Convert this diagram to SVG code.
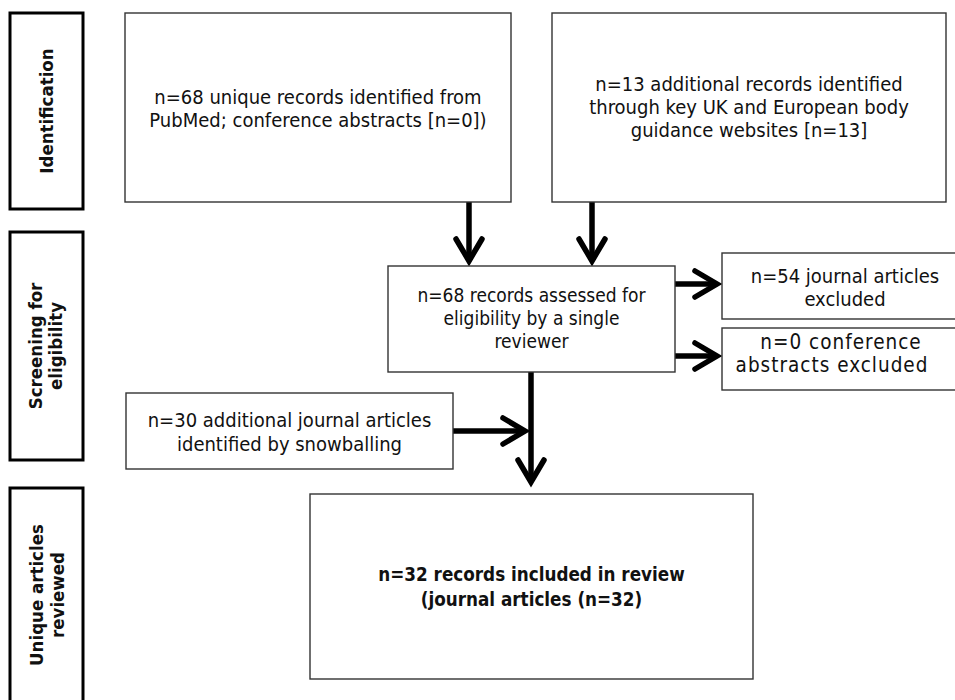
<svg xmlns="http://www.w3.org/2000/svg" width="955" height="700" viewBox="0 0 955 700">
<style>
  .stage { fill: #fff; stroke: #000; stroke-width: 3; }
  .box { fill: #fff; stroke: #333; stroke-width: 1.4; }
  .t { font-family: "DejaVu Sans Condensed", "DejaVu Sans", Verdana, sans-serif; font-stretch: condensed; font-size: 20px; fill: #111; text-anchor: middle; }
  .t17 { font-size: 19px; }
  .wide { font-size: 20.5px; letter-spacing: 1px; }
  .lab { font-family: "DejaVu Sans Condensed", "DejaVu Sans", Verdana, sans-serif; font-stretch: condensed; font-size: 18.5px; font-weight: bold; fill: #111; text-anchor: middle; }
  .bt { font-family: "DejaVu Sans Condensed", "DejaVu Sans", Verdana, sans-serif; font-stretch: condensed; font-size: 18.7px; font-weight: bold; fill: #111; text-anchor: middle; }
  .conn { fill: none; stroke: #000; stroke-width: 5.5; stroke-linecap: butt; }
</style>
<defs>
  <marker id="chev" markerUnits="userSpaceOnUse" viewBox="-40 -20 50 40" refX="0" refY="0" markerWidth="50" markerHeight="40" orient="auto" overflow="visible">
    <path d="M-22,-13 L0,0 L-22,13" fill="none" stroke="#000" stroke-width="5.5" stroke-linecap="round" stroke-linejoin="miter"/>
  </marker>
</defs>
<rect width="955" height="700" fill="#fff"/>

<g id="stage-identification">
  <rect class="stage" x="10" y="13" width="73" height="196"/>
  <text class="lab" transform="translate(53,111) rotate(-90)">Identification</text>
</g>
<g id="stage-screening">
  <rect class="stage" x="10" y="232" width="73" height="228"/>
  <text class="lab" transform="translate(42,346) rotate(-90)">Screening for</text>
  <text class="lab" transform="translate(62,346) rotate(-90)">eligibility</text>
</g>
<g id="stage-unique">
  <rect class="stage" x="10" y="488" width="73" height="220"/>
  <text class="lab" transform="translate(43,595) rotate(-90)">Unique articles</text>
  <text class="lab" transform="translate(64,595) rotate(-90)">reviewed</text>
</g>

<g id="connectors">
  <path class="conn" d="M469,202 V261" marker-end="url(#chev)"/>
  <path class="conn" d="M592,202 V261" marker-end="url(#chev)"/>
  <path class="conn" d="M675,284 H717" marker-end="url(#chev)"/>
  <path class="conn" d="M675,356 H717" marker-end="url(#chev)"/>
  <path class="conn" d="M531,372 V482" marker-end="url(#chev)"/>
  <path class="conn" d="M453,431 H525" marker-end="url(#chev)"/>
</g>

<g id="node-pubmed">
  <rect class="box" x="125" y="13" width="386" height="189"/>
  <text class="t" x="318" y="104">n=68 unique records identified from</text>
  <text class="t" x="318" y="127">PubMed; conference abstracts [n=0])</text>
</g>
<g id="node-websites">
  <rect class="box" x="552" y="13" width="394" height="189"/>
  <text class="t" x="749" y="91">n=13 additional records identified</text>
  <text class="t" x="749" y="114">through key UK and European body</text>
  <text class="t" x="749" y="137">guidance websites [n=13]</text>
</g>
<g id="node-assessed">
  <rect class="box" x="388" y="266" width="287" height="106"/>
  <text class="t t17" x="531.5" y="302">n=68 records assessed for</text>
  <text class="t t17" x="531.5" y="325">eligibility by a single</text>
  <text class="t t17" x="531.5" y="348">reviewer</text>
</g>
<g id="node-excluded-journal">
  <rect class="box" x="722" y="253" width="247" height="66"/>
  <text class="t" x="845" y="283">n=54 journal articles</text>
  <text class="t" x="845" y="306">excluded</text>
</g>
<g id="node-excluded-conference">
  <rect class="box" x="722" y="328" width="247" height="62"/>
  <text class="t wide" x="841" y="349">n=0 conference</text>
  <text class="t wide" x="832" y="372">abstracts excluded</text>
</g>
<g id="node-snowballing">
  <rect class="box" x="126" y="393" width="327" height="76"/>
  <text class="t" x="289.5" y="427">n=30 additional journal articles</text>
  <text class="t" x="289.5" y="451">identified by snowballing</text>
</g>
<g id="node-included">
  <rect class="box" x="310" y="494" width="443" height="185"/>
  <text class="bt" x="531.5" y="581">n=32 records included in review</text>
  <text class="bt" x="531.5" y="606">(journal articles (n=32)</text>
</g>
</svg>
